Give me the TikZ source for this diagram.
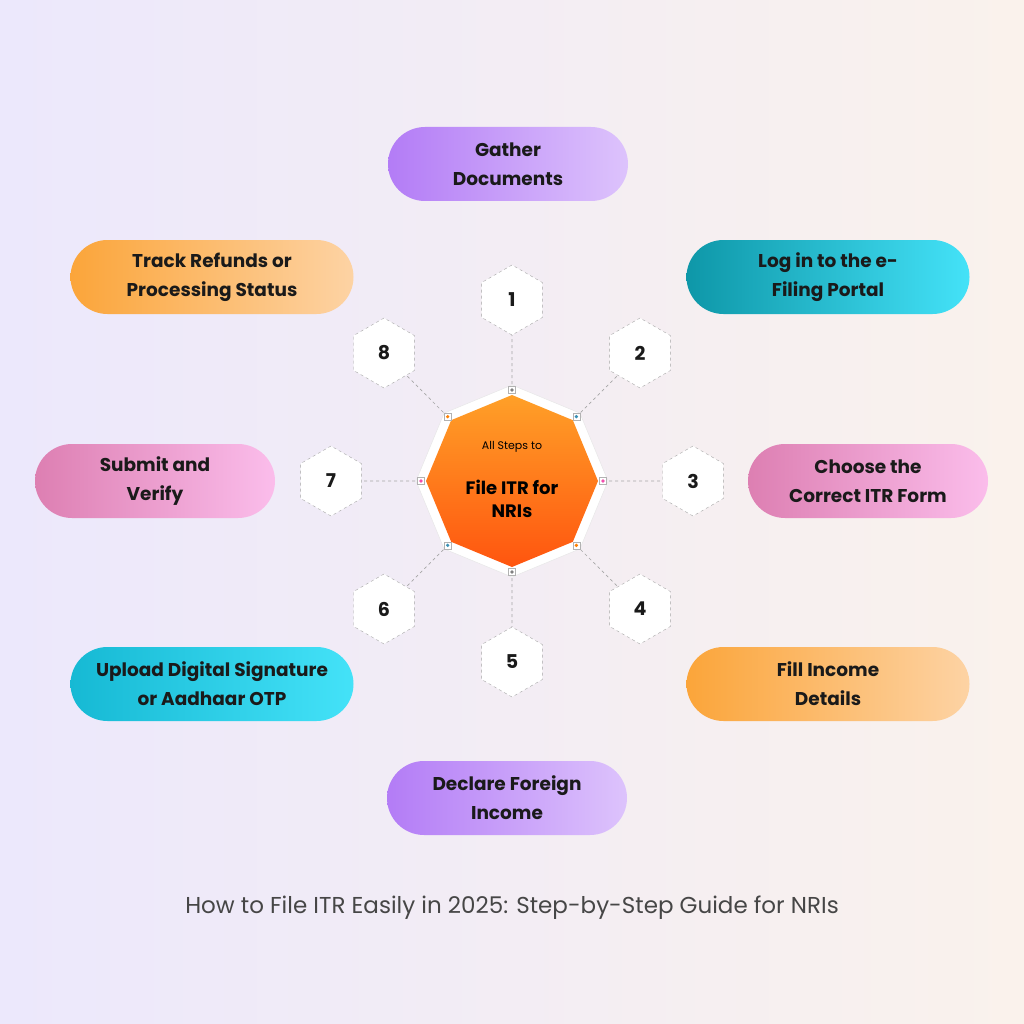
\documentclass[tikz,border=0pt]{standalone}
\usepackage{fontspec}
\setmainfont{Poppins}
\usetikzlibrary{shapes.geometric}
\definecolor{pA}{HTML}{B37CF6}\definecolor{pB}{HTML}{DDC3FC}
\definecolor{cA}{HTML}{0E97A8}\definecolor{cB}{HTML}{44E2F8}
\definecolor{cC}{HTML}{16B9D4}
\definecolor{kA}{HTML}{DD7FB2}\definecolor{kB}{HTML}{FBBDEB}
\definecolor{oA}{HTML}{FBA53A}\definecolor{oB}{HTML}{FDD3A4}
\definecolor{orT}{HTML}{FFA028}\definecolor{orB}{HTML}{FF550F}
\definecolor{bgA}{HTML}{ECE8FC}\definecolor{bgB}{HTML}{FAF2EC}
\definecolor{capc}{HTML}{464646}
\definecolor{txt}{HTML}{1A1A1A}
\tikzset{
 pill/.style={rounded corners=37pt,minimum height=74pt,align=center,font=\fontsize{18.5}{29}\selectfont\bfseries,text=txt,inner sep=0pt},
 hexa/.style={regular polygon,regular polygon sides=6,shape border rotate=30,minimum size=70pt,draw=gray!70,dashed,fill=white,font=\fontsize{19}{22}\selectfont\bfseries,text=txt,inner sep=0pt},
 octo/.style={regular polygon,regular polygon sides=8,shape border rotate=22.5,inner sep=0pt},
 conn/.style={draw=gray!70,dashed,line width=0.7pt},
 marker/.style={draw=gray!60,fill=white,minimum size=7pt,inner sep=0pt,line width=0.5pt}
}
\begin{document}
\begin{tikzpicture}[x=1pt,y=-1pt]
\shade[left color=bgA,right color=bgB] (0,0) rectangle (1024,1024);
\useasboundingbox (0,0) rectangle (1024,1024);
\node[octo,minimum size=192pt,fill=white,draw=gray!20] (outer) at (512,481) {};
\node[octo,minimum size=172pt,top color=orT,bottom color=orB] (center) at (512,481) {};
\node (sub) at (512,447) {\fontsize{11}{13}\selectfont All Steps to};
\node[align=center,font=\fontsize{18}{23}\selectfont\bfseries] (title) at (512,499) {File ITR for\\NRIs};
\foreach \n/\ang/\col in {1/90/gray,2/45/cyan!70!black,3/0/magenta!70,4/-45/orange,5/-90/gray,6/-135/cyan!70!black,7/180/magenta!70,8/135/orange}{
 \node[hexa] (h\n) at (512+181*cos \ang,481-181*sin \ang) {\n};
 \coordinate (m\n) at (512+91*cos \ang,481-91*sin \ang);
 \draw[conn] (m\n) -- (h\n);
 \node[marker] at (m\n) {};
 \fill[\col] (m\n) circle (1.8pt);
}
\node[pill,minimum width=240pt,left color=pA,right color=pB] (p1) at (508,164) {Gather\\Documents};
\node[pill,minimum width=283pt,left color=cA,right color=cB] (p2) at (828,277) {Log in to the e-\\Filing Portal};
\node[pill,minimum width=240pt,left color=kA,right color=kB] (p3) at (868,481) {Choose the\\Correct ITR Form};
\node[pill,minimum width=283pt,left color=oA,right color=oB] (p4) at (828,684) {Fill Income\\Details};
\node[pill,minimum width=240pt,left color=pA,right color=pB] (p5) at (507,798) {Declare Foreign\\Income};
\node[pill,minimum width=283pt,left color=cC,right color=cB] (p6) at (212,684) {Upload Digital Signature\\or Aadhaar OTP};
\node[pill,minimum width=240pt,left color=kA,right color=kB] (p7) at (155,481) {Submit and\\Verify};
\node[pill,minimum width=283pt,left color=oA,right color=oB] (p8) at (212,277) {Track Refunds or\\Processing Status};
\node[text=capc,font=\fontsize{23}{27}\selectfont] (cap) at (512,908) {How to File ITR Easily in 2025: Step-by-Step Guide for NRIs};
\end{tikzpicture}
\end{document}
